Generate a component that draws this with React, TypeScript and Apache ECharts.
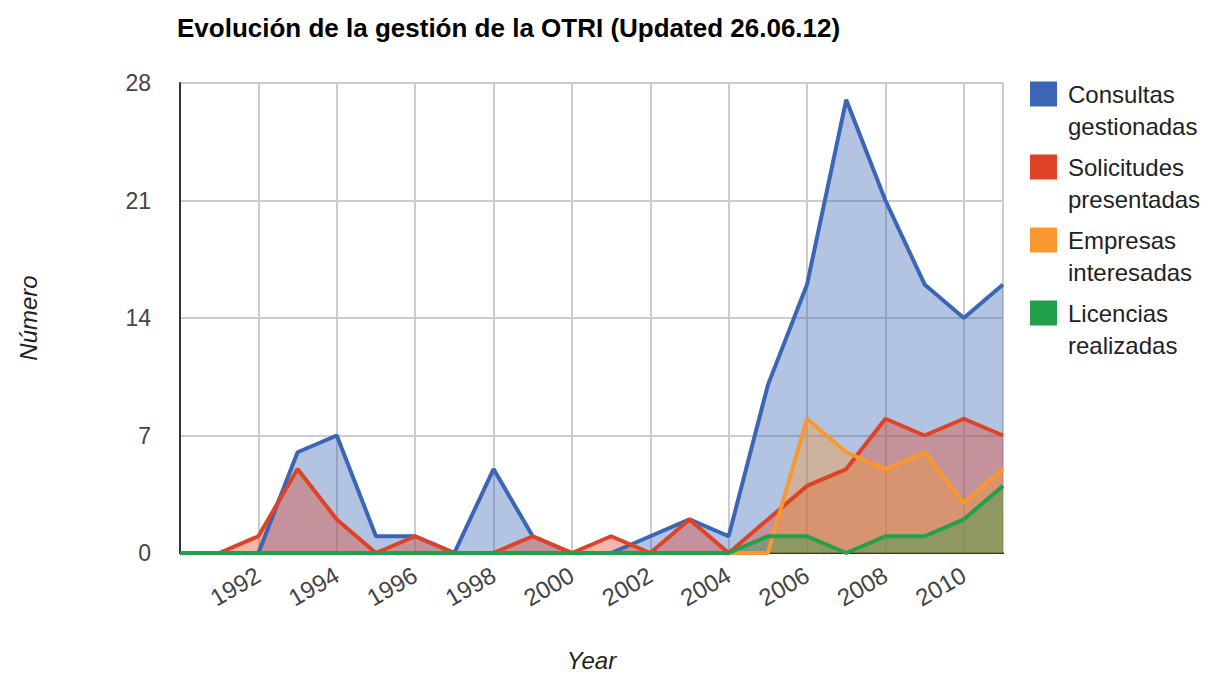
import React, { useEffect, useRef } from "react";
import * as echarts from "echarts";

const years = [1990, 1991, 1992, 1993, 1994, 1995, 1996, 1997, 1998, 1999, 2000, 2001, 2002, 2003, 2004, 2005, 2006, 2007, 2008, 2009, 2010, 2011];
const consultas = [0, 0, 0, 6, 7, 1, 1, 0, 5, 1, 0, 0, 1, 2, 1, 10, 16, 27, 21, 16, 14, 16];
const solicitudes = [0, 0, 1, 5, 2, 0, 1, 0, 0, 1, 0, 1, 0, 2, 0, 2, 4, 5, 8, 7, 8, 7];
const empresas = [0, 0, 0, 0, 0, 0, 0, 0, 0, 0, 0, 0, 0, 0, 0, 0, 8, 6, 5, 6, 3, 5];
const licencias = [0, 0, 0, 0, 0, 0, 0, 0, 0, 0, 0, 0, 0, 0, 0, 1, 1, 0, 1, 1, 2, 4];

const seriesNames = ["Consultas gestionadas", "Solicitudes presentadas", "Empresas interesadas", "Licencias realizadas"];
const seriesValues = [consultas, solicitudes, empresas, licencias];
const colors = ["#3b66b6", "#de4326", "#f8982e", "#22a04b"];

const FONT = "'Liberation Sans', Arial, sans-serif";

export default function App() {
  const ref = useRef<HTMLDivElement>(null);
  useEffect(() => {
    if (!ref.current) return;
    const chart = echarts.init(ref.current, undefined, { renderer: "svg" });
    chart.setOption({
      animation: false,
      backgroundColor: "#ffffff",
      color: colors,
      title: {
        text: "Evolución de la gestión de la OTRI (Updated 26.06.12)",
        left: 177,
        top: 15,
        padding: 0,
        textStyle: { fontFamily: FONT, fontWeight: "bold", fontSize: 26, color: "#000000" },
      },
      grid: { left: 180, right: 222, top: 83, bottom: 120, containLabel: false },
      legend: {
        orient: "vertical",
        left: 1030,
        top: 46,
        padding: 0,
        itemGap: -23,
        itemWidth: 27,
        itemHeight: 25,
        icon: "rect",
        formatter: (name: string) => "\n" + name.replace(" ", "\n"),
        textStyle: {
          fontFamily: FONT,
          fontSize: 24,
          color: "#222222",
          lineHeight: 32,
          padding: [0, 0, 0, 6],
        },
      },
      xAxis: {
        type: "value",
        min: 1990,
        max: 2011,
        interval: 2,
        name: "Year",
        nameLocation: "middle",
        nameGap: 95,
        nameTextStyle: { fontFamily: FONT, fontStyle: "italic", fontSize: 24, color: "#222222" },
        axisLine: { show: true, onZero: false, lineStyle: { color: "#333333", width: 2 } },
        axisTick: { show: false },
        axisLabel: {
          rotate: 30,
          margin: 20,
          showMinLabel: false,
          fontFamily: FONT,
          fontSize: 24,
          color: "#444444",
          formatter: (v: number) => String(v),
        },
        splitLine: { show: true, lineStyle: { color: "#cccccc", width: 2 } },
      },
      yAxis: {
        type: "value",
        min: 0,
        max: 28,
        interval: 7,
        name: "Número",
        nameLocation: "middle",
        nameGap: 140,
        nameRotate: 90,
        nameTextStyle: { fontFamily: FONT, fontStyle: "italic", fontSize: 24, color: "#222222" },
        axisLine: { show: true, lineStyle: { color: "#333333", width: 2 } },
        axisTick: { show: false },
        axisLabel: { margin: 29, fontFamily: FONT, fontSize: 23, color: "#444444" },
        splitLine: { show: true, lineStyle: { color: "#cccccc", width: 2 } },
      },
      series: seriesNames.map((name, i) => ({
        name,
        type: "line",
        data: years.map((y, j) => [y, seriesValues[i][j]]),
        showSymbol: false,
        symbol: "none",
        lineStyle: { width: 4, color: colors[i] },
        areaStyle: { color: colors[i], opacity: 0.39 },
      })),
    });
    return () => chart.dispose();
  }, []);
  return <div ref={ref} style={{ position: "fixed", left: 0, top: 0, width: 1225, height: 677 }} />;
}
